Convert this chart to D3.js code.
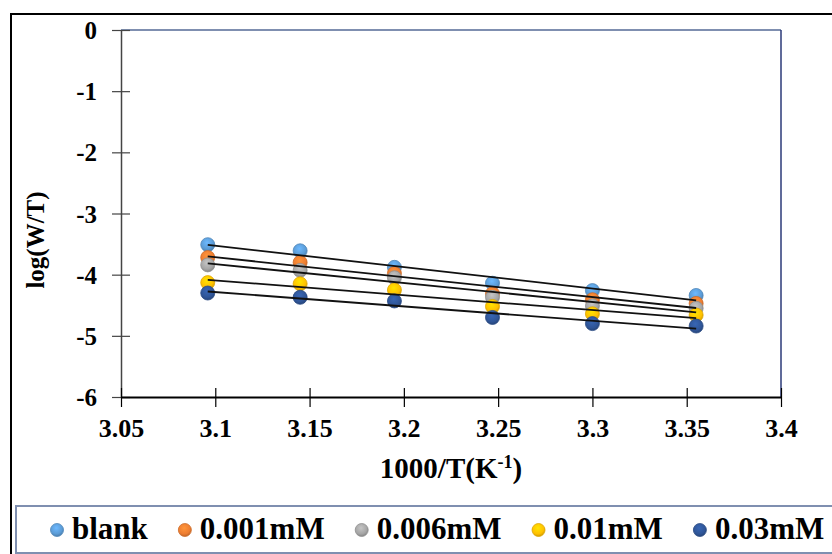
<!DOCTYPE html>
<html lang="en">
<head>
    <meta charset="UTF-8">
    <title>log(W/T) vs 1000/T</title>
    <script src="https://d3js.org/d3.v7.min.js"></script>
    <style>
        body {
            margin: 0;
            padding: 0;
            background: #fff;
        }
        svg text {
            font-family: "Liberation Serif", "Times New Roman", serif;
            font-weight: bold;
            fill: #000;
        }
    </style>
</head>
<body>
    <svg width="832" height="554"></svg>
    <script>
        // data
        const invT = [3.096, 3.145, 3.195, 3.247, 3.300, 3.355];
        const blank = [-3.51, -3.61, -3.88, -4.14, -4.26, -4.34];
        const c0001 = [-3.72, -3.80, -3.98, -4.31, -4.41, -4.47];
        const c0006 = [-3.84, -3.93, -4.05, -4.37, -4.51, -4.55];
        const c001 = [-4.13, -4.15, -4.25, -4.52, -4.64, -4.66];
        const c003 = [-4.30, -4.37, -4.43, -4.70, -4.80, -4.84];
        const seriesNames = ["blank", "0.001mM", "0.006mM", "0.01mM", "0.03mM"];
        const xTicks = [3.05, 3.1, 3.15, 3.2, 3.25, 3.3, 3.35, 3.4];
        const yTicks = [0, -1, -2, -3, -4, -5, -6];

        const colors = ["#5B9BD5", "#ED7D31", "#A5A5A5", "#FFC000", "#2F5597"];
        const allSeries = [blank, c0001, c0006, c001, c003];

        const svg = d3.select("svg");

        // outer frame (only top and left visible)
        svg.append("path")
           .attr("d", "M11,554 L11,14 L832,14")
           .attr("fill", "none")
           .attr("stroke", "#000")
           .attr("stroke-width", 2);

        const x = d3.scaleLinear().domain([3.05, 3.4]).range([121, 781]);
        const y = d3.scaleLinear().domain([-6, 0]).range([397, 30]);

        // gradients for the markers
        const defs = svg.append("defs");
        colors.forEach((c, i) => {
            const g = defs.append("radialGradient")
                .attr("id", "grad" + i)
                .attr("cx", "45%").attr("cy", "35%").attr("r", "65%");
            g.append("stop").attr("offset", "0%").attr("stop-color", d3.color(c).brighter(0.5));
            g.append("stop").attr("offset", "70%").attr("stop-color", c);
            g.append("stop").attr("offset", "100%").attr("stop-color", d3.color(c).darker(0.6));
        });

        // plot area border (top and right)
        svg.append("line")
           .attr("x1", x(3.05)).attr("x2", x(3.4))
           .attr("y1", y(0)).attr("y2", y(0))
           .attr("stroke", "#7F8FB0").attr("stroke-width", 2);
        svg.append("line")
           .attr("x1", x(3.4)).attr("x2", x(3.4))
           .attr("y1", y(0)).attr("y2", y(-6))
           .attr("stroke", "#2B3A78").attr("stroke-width", 1.5);

        // y axis
        const yAxis = svg.append("g")
           .attr("transform", `translate(${x(3.05)},0)`)
           .call(d3.axisLeft(y).tickValues(yTicks).tickFormat(d => String(d)).tickSizeOuter(0));
        yAxis.select(".domain").attr("stroke", "#444").attr("stroke-width", 1.5);
        yAxis.selectAll(".tick line").attr("x1", -9).attr("x2", 9).attr("stroke", "#444").attr("stroke-width", 1.2);
        yAxis.selectAll(".tick text")
             .attr("x", -24)
             .attr("dy", "0.34em")
             .style("font-size", "25px");

        // x axis
        const xAxis = svg.append("g")
           .attr("transform", `translate(0,${y(-6)})`)
           .call(d3.axisBottom(x).tickValues(xTicks).tickFormat(d => String(+d.toFixed(2))).tickSizeOuter(0));
        xAxis.select(".domain").attr("stroke", "#000").attr("stroke-width", 2);
        xAxis.selectAll(".tick line").attr("y1", -9).attr("y2", 10).attr("stroke", "#000").attr("stroke-width", 1.2);
        xAxis.selectAll(".tick text")
             .attr("y", 40)
             .attr("dy", 0)
             .style("font-size", "26px");

        // axis titles
        svg.append("text")
           .attr("transform", "translate(44,240) rotate(-90)")
           .style("text-anchor", "middle")
           .style("font-size", "25px")
           .text("log(W/T)");

        const xt = svg.append("text")
           .attr("x", 451).attr("y", 478)
           .style("text-anchor", "middle")
           .style("font-size", "29px");
        xt.append("tspan").text("1000/T(K");
        xt.append("tspan").attr("dy", -10).style("font-size", "18px").text("-1");
        xt.append("tspan").attr("dy", 10).text(")");

        // markers, drawn series by series
        allSeries.forEach((vals, i) => {
            svg.append("g")
               .selectAll("circle")
               .data(vals)
               .join("circle")
               .attr("cx", (d, j) => x(invT[j]))
               .attr("cy", d => y(d))
               .attr("r", 7)
               .attr("fill", `url(#grad${i})`)
               .attr("stroke", d3.color(colors[i]).darker(0.4))
               .attr("stroke-width", 0.8);
        });

        // linear trendlines (least squares over each series), on top of markers
        allSeries.forEach(vals => {
            const n = invT.length;
            const mx = d3.mean(invT), my = d3.mean(vals);
            let sxy = 0, sxx = 0;
            for (let i = 0; i < n; i++) {
                sxy += (invT[i] - mx) * (vals[i] - my);
                sxx += (invT[i] - mx) * (invT[i] - mx);
            }
            const b = sxy / sxx, a = my - b * mx;
            const x0 = d3.min(invT), x1 = d3.max(invT);
            svg.append("line")
               .attr("x1", x(x0)).attr("y1", y(a + b * x0))
               .attr("x2", x(x1)).attr("y2", y(a + b * x1))
               .attr("stroke", "#111")
               .attr("stroke-width", 1.8);
        });

        // legend box
        svg.append("rect")
           .attr("x", 16).attr("y", 506)
           .attr("width", 830).attr("height", 47)
           .attr("fill", "none")
           .attr("stroke", "#7F8FB0")
           .attr("stroke-width", 2);

        const legend = svg.append("g");
        let lx = 57;
        seriesNames.forEach((name, i) => {
            legend.append("circle")
                  .attr("cx", lx).attr("cy", 530)
                  .attr("r", 6.5)
                  .attr("fill", `url(#grad${i})`)
                  .attr("stroke", d3.color(colors[i]).darker(0.4))
                  .attr("stroke-width", 0.8);
            const t = legend.append("text")
                  .attr("x", lx + 15).attr("y", 539)
                  .style("font-size", "31px")
                  .text(name);
            lx = lx + 15 + t.node().getComputedTextLength() + 37;
        });
    </script>
</body>
</html>
